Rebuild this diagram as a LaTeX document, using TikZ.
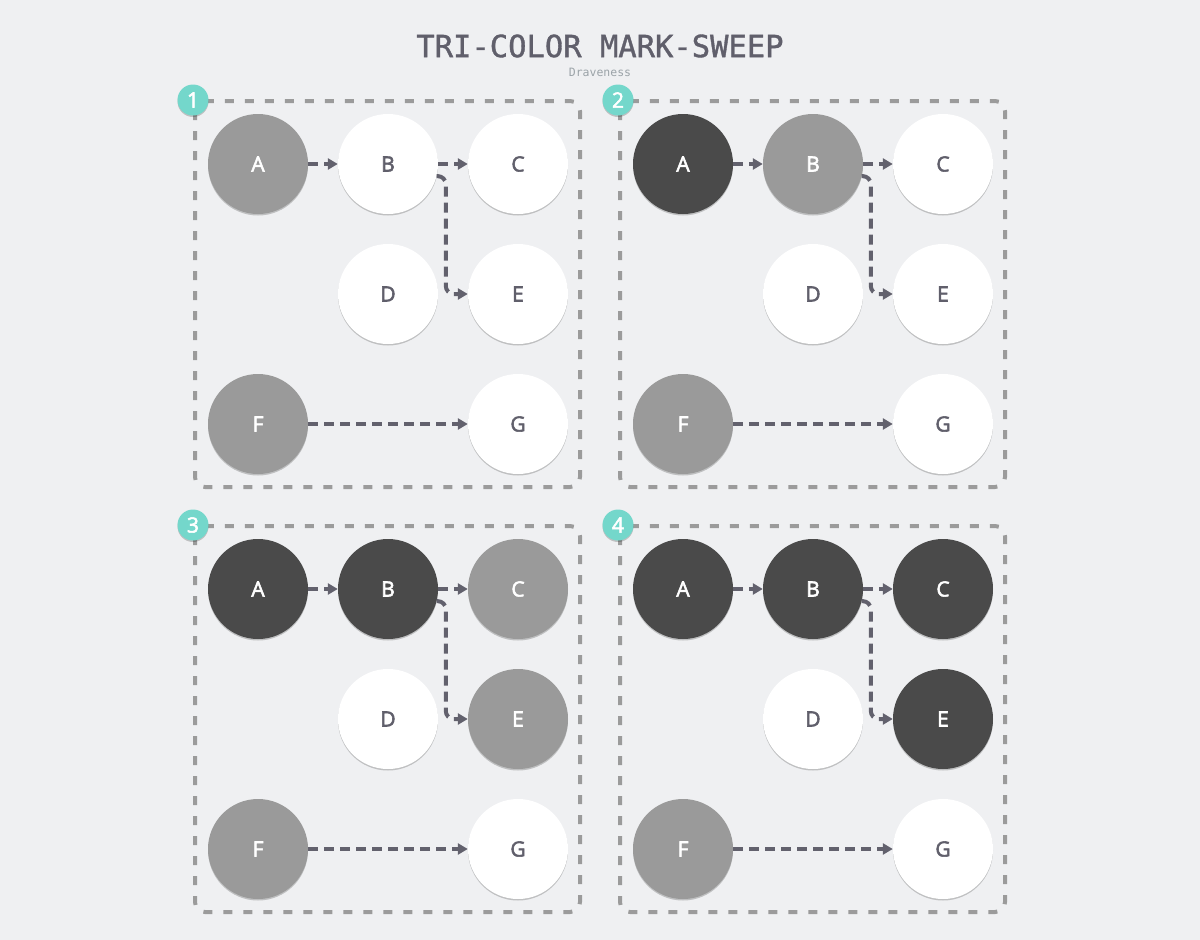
\documentclass[tikz,border=0pt]{standalone}
\usepackage{fontspec}
\setmainfont{Open Sans}
\newfontfamily\lblfont[RawFeature={embolden=2.6}]{Open Sans}
\newfontfamily\titlefont[RawFeature={embolden=1.2}]{DejaVu Sans Mono}
\newfontfamily\subfont{DejaVu Sans Mono}
\usetikzlibrary{arrows.meta,shadows,calc}
\definecolor{bg}{HTML}{EFF0F2}
\definecolor{gfill}{HTML}{9A9A9A}
\definecolor{bfill}{HTML}{4A4A4A}
\definecolor{boxc}{HTML}{9B9B9B}
\definecolor{arrc}{HTML}{62616D}
\definecolor{txtc}{HTML}{605F6B}
\definecolor{badgec}{HTML}{74D7CB}
\definecolor{subc}{HTML}{9BA3A8}
\tikzset{
  obj/.style={circle, minimum size=100pt, inner sep=0pt, draw=none,
    font=\lblfont\fontsize{21}{21}\selectfont,
    drop shadow={shadow xshift=0pt, shadow yshift=-1.5pt, opacity=0.2, fill=black}},
  wnode/.style={obj, fill=white, text=txtc},
  gnode/.style={obj, fill=gfill, text=white},
  bnode/.style={obj, fill=bfill, text=white},
  boxline/.style={draw=boxc, line width=4pt, dash pattern=on 9pt off 11pt, rounded corners=10pt},
  badge/.style={circle, minimum size=31pt, inner sep=0pt, fill=badgec, text=white,
    font=\lblfont\fontsize{21}{21}\selectfont,
    drop shadow={shadow xshift=0pt, shadow yshift=-1.5pt, opacity=0.2, fill=black}},
  arr/.style={draw=arrc, line width=4pt, dash pattern=on 10pt off 6pt,
    -{Triangle[length=10pt,width=11pt]}},
}
\newcommand{\gcpanel}[8]{%
\begin{scope}[shift={(#2,#3)}]
  \draw[boxline] (195,101) rectangle (580,487);
  \node[badge] (n#1) at (193,100) {#1};
  \node[#4] (A#1) at (258,164) {A};
  \node[#5] (B#1) at (388,164) {B};
  \node[#6] (C#1) at (518,164) {C};
  \node[wnode] (D#1) at (388,294) {D};
  \node[#7] (E#1) at (518,294) {E};
  \node[#8] (F#1) at (258,424) {F};
  \node[wnode] (G#1) at (518,424) {G};
  \draw[arr] (A#1) -- (B#1);
  \draw[arr] (B#1) -- (C#1);
  \draw[arr, rounded corners=8pt] (B#1.-14) -| ($(E#1.west)+(-22,0)$) -- (E#1.west);
  \draw[arr] (F#1) -- (G#1);
\end{scope}}
\begin{document}
\begin{tikzpicture}[x=1pt,y=-1pt]
  \fill[bg] (0,0) rectangle (1200,940);
  \useasboundingbox (0,0) rectangle (1200,940);
  \node[text=txtc, font=\titlefont\fontsize{30.5}{31}\selectfont] (title) at (600,46) {TRI-COLOR MARK-SWEEP};
  \node[text=subc, font=\subfont\fontsize{11.5}{12}\selectfont] (sub) at (600,72) {Draveness};
  \gcpanel{1}{0}{0}{gnode}{wnode}{wnode}{wnode}{gnode}
  \gcpanel{2}{425}{0}{bnode}{gnode}{wnode}{wnode}{gnode}
  \gcpanel{3}{0}{425}{bnode}{bnode}{gnode}{gnode}{gnode}
  \gcpanel{4}{425}{425}{bnode}{bnode}{bnode}{bnode}{gnode}
\end{tikzpicture}
\end{document}
